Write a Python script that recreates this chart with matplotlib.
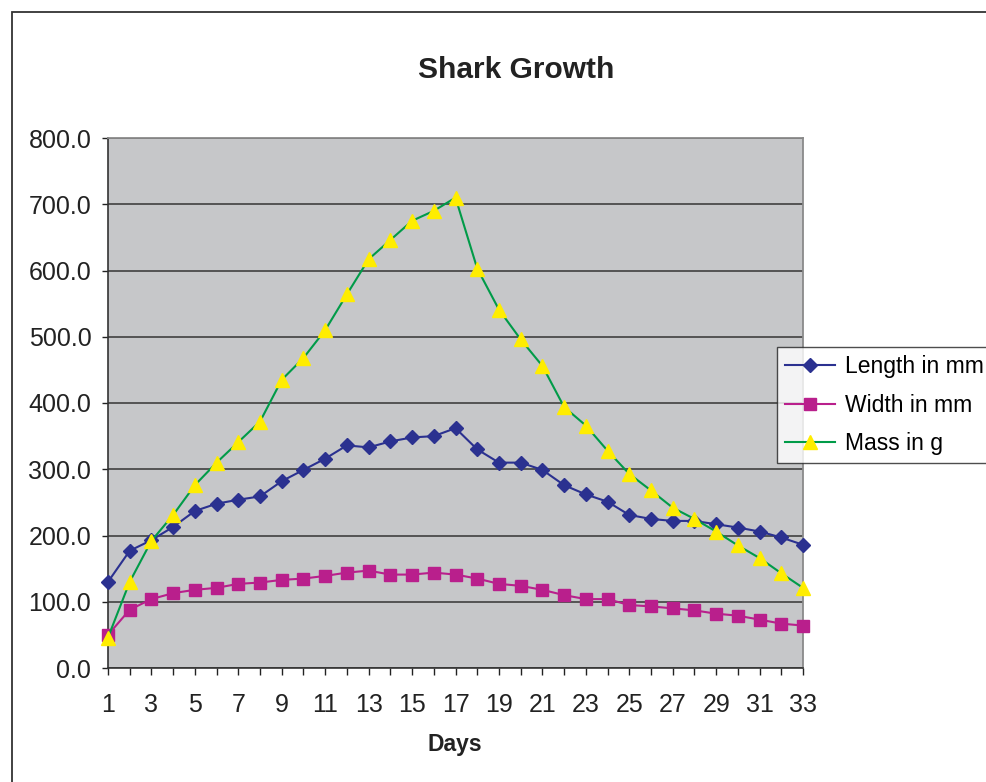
import matplotlib
matplotlib.use("Agg")
import matplotlib.pyplot as plt
from matplotlib.patches import Rectangle

plt.rcParams["font.family"] = ["Liberation Sans", "DejaVu Sans"]

# -- data --
days = list(range(1, 34))
length_mm = [130, 177, 193, 213, 237, 248, 254, 259, 282, 299, 316, 336, 333, 342, 348, 350, 362,
             330, 310, 310, 299, 276, 262, 251, 231, 225, 222, 222, 217, 212, 206, 197, 186]
width_mm = [50, 88, 104, 113, 118, 121, 127, 129, 133, 135, 139, 144, 147, 141, 141, 144, 141,
            135, 127, 124, 118, 110, 104, 104, 95, 93, 90, 87, 82, 79, 73, 67, 64]
mass_g = [46, 130, 192, 231, 276, 310, 341, 372, 435, 468, 510, 564, 617, 646, 675, 690, 710,
          603, 541, 496, 456, 394, 366, 328, 293, 268, 242, 225, 206, 185, 166, 143, 121]
yticks = [0, 100, 200, 300, 400, 500, 600, 700, 800]

W, H = 987, 782
fig = plt.figure(figsize=(W / 100, H / 100), dpi=100)
ax = fig.add_axes([108 / W, 1 - 668 / H, (803 - 108) / W, (668 - 138) / H])
ax.set_facecolor("#C6C7C9")

ax.plot(days, length_mm, color="#2B3190", lw=1.5, marker="D", ms=6.8,
        mfc="#2B3190", mec="#2B3190", clip_on=False, zorder=3, label="Length in mm")
ax.plot(days, width_mm, color="#B91F8C", lw=1.5, marker="s", ms=9.3,
        mfc="#B91F8C", mec="#B91F8C", clip_on=False, zorder=3, label="Width in mm")
ax.plot(days, mass_g, color="#009B48", lw=1.5, marker="^", ms=10,
        mfc="#FFED00", mec="#FFED00", clip_on=False, zorder=4, label="Mass in g")

ax.set_xlim(1, 33)
ax.set_ylim(0, 800)
ax.set_yticks(yticks)
ax.set_yticklabels([f"{v:.1f}" for v in yticks])
ax.set_xticks(days)
ax.set_xticklabels([str(d) if d % 2 == 1 else "" for d in days])
ax.tick_params(axis="y", direction="out", length=4, width=1, pad=8, labelsize=18, colors="#222222")
ax.tick_params(axis="x", direction="out", length=5, width=1, pad=13, labelsize=18, colors="#222222")
ax.yaxis.grid(True, color="#4a4a4a", lw=1.3)
ax.set_axisbelow(True)
for s in ["top", "right"]:
    ax.spines[s].set_color("#8a8a8a")
    ax.spines[s].set_linewidth(1.3)
for s in ["left", "bottom"]:
    ax.spines[s].set_color("#333333")
    ax.spines[s].set_linewidth(1.2)

fig.text(516 / W, 1 - 70 / H, "Shark Growth", ha="center", va="center",
         fontsize=21.5, fontweight="bold", color="#222222")
fig.text(455 / W, 1 - 745 / H, "Days", ha="center", va="center",
         fontsize=16.5, fontweight="bold", color="#222222")

leg = fig.legend(loc="upper left", bbox_to_anchor=(777 / W, 1 - 347 / H), borderaxespad=0,
                 fontsize=16.5, frameon=True, fancybox=False, edgecolor="#222222",
                 handlelength=2.2, handletextpad=0.4, labelspacing=0.68, borderpad=0.35)
leg.get_frame().set_linewidth(1.0)

# chart area border
fig.patches.append(Rectangle((12 / W, -0.1), 1.2, 1.1 - 12 / H, transform=fig.transFigure,
                             fill=False, edgecolor="#333333", lw=1.3))

fig.savefig("out.png", dpi=100)
